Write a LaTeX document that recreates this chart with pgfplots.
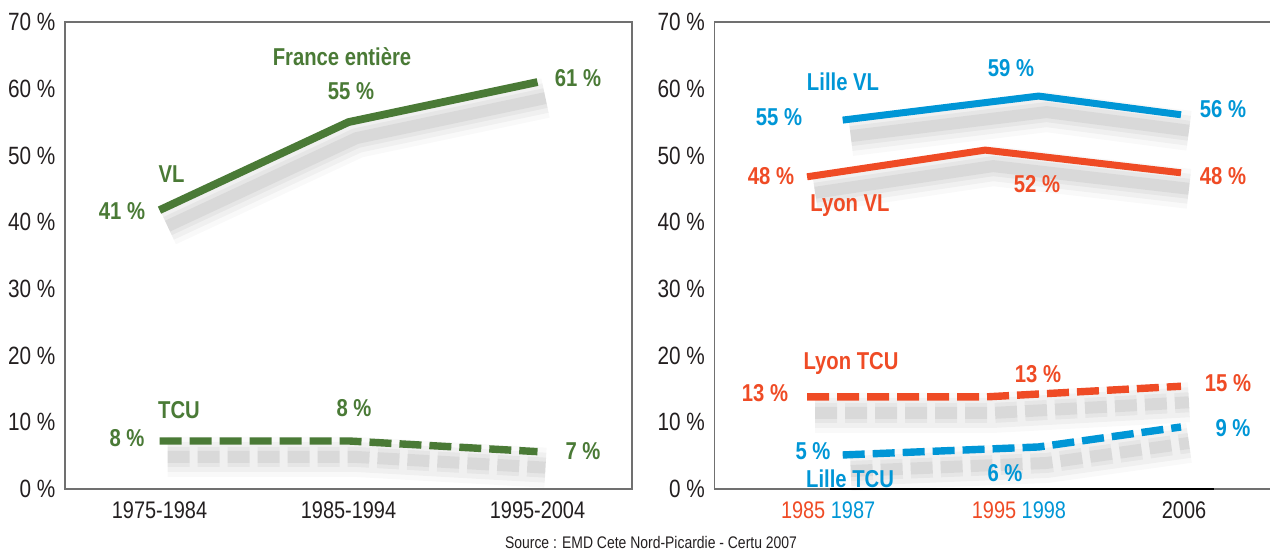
\documentclass[border=0pt]{standalone}
\usepackage{pgfplots}
\pgfplotsset{compat=1.18}
\usepackage{pgfplotstable}
\usepackage{fontspec}
\setmainfont{Liberation Sans}[FakeStretch=0.83]

\definecolor{vert}{HTML}{4A7A36}
\definecolor{lille}{HTML}{0096D6}
\definecolor{lyon}{HTML}{EF4B25}
\definecolor{axisgray}{HTML}{707070}
\definecolor{txt}{HTML}{231F20}

% France entiere
\pgfplotstableread{
x VL TCU
0 41.8 7.2
1 55.0 7.2
2 61.0 5.6
}\tabfrance
% Lyon
\pgfplotstableread{
x VL TCU
1985 46.8 13.8
1995 50.8 13.8
2006 47.4 15.4
}\tablyon
% Lille
\pgfplotstableread{
x VL TCU
1987 55.3 5.1
1998 58.9 6.3
2006 56.1 9.3
}\tablille

% soft drop shadow under a series: #1 dash option, #2 table, #3 column
% (the wide, faint layers stay solid so the blur closes the dash gaps)
\newcommand{\shadowed}[3]{%
  \addplot[black, opacity=0.025, line width=20pt, line join=round, transform canvas={xshift=4pt,yshift=-8pt}] table[x=x,y=#3]{#2};
  \addplot[black, opacity=0.035, line width=15pt, line join=round, transform canvas={xshift=4pt,yshift=-8pt}] table[x=x,y=#3]{#2};
  \addplot[black, opacity=0.045, line width=10pt, line join=round, #1, transform canvas={xshift=4pt,yshift=-8pt}] table[x=x,y=#3]{#2};
  \addplot[black, opacity=0.055, line width=6pt, line join=round, #1, transform canvas={xshift=4pt,yshift=-8pt}] table[x=x,y=#3]{#2};
}

\pgfplotsset{
  common/.style={
    scale only axis, height=233.5pt, anchor=south west,
    ymin=0, ymax=70,
    ytick={0,10,...,70},
    yticklabels={0 \%,10 \%,20 \%,30 \%,40 \%,50 \%,60 \%,70 \%},
    tick style={draw=none},
    y tick label style={font=\fontsize{12.5}{13}\selectfont, text=txt, xshift=-1.3pt},
    x tick label style={font=\fontsize{12}{13}\selectfont, text=txt, yshift=-3pt},
    axis line style={axisgray, line width=0.7pt},
    clip=false,
  },
  dashes/.style={dash pattern=on 11pt off 4pt, line cap=butt},
}

\begin{document}
\begin{tikzpicture}
\path[use as bounding box] (0,0) rectangle (635pt,-275pt);

% left panel
\begin{axis}[common,
    at={(32.5pt,-244.5pt)}, width=283.5pt,
    xmin=-0.5, xmax=2.5,
    xtick={0,1,2},
    xticklabels={1975-1984,1985-1994,1995-2004},
]
\shadowed{}{\tabfrance}{VL}
\shadowed{dashes}{\tabfrance}{TCU}
\addplot[vert, line width=3.9pt, line join=round] table[x=x,y=VL]{\tabfrance};
\addplot[vert, line width=3.7pt, dashes] table[x=x,y=TCU]{\tabfrance};
\end{axis}

% right panel
\begin{axis}[common,
    at={(357.25pt,-244.5pt)}, width=277.75pt,
    xmin=1979.8, xmax=2011.0,
    xtick={1986.18,1996.9,2006.17},
    xticklabels={{\textcolor{lyon}{1985} \textcolor{lille}{1987}},
                 {\textcolor{lyon}{1995} \textcolor{lille}{1998}},
                 2006},
    axis line style={draw=none},
]
\draw[axisgray, line width=0.7pt] (rel axis cs:1,1) -- (rel axis cs:0,1) -- (rel axis cs:0,0) -- (rel axis cs:1,0);
\draw[black, line width=1.1pt] (rel axis cs:0.208,0) -- (rel axis cs:0.899,0);
\shadowed{}{\tablille}{VL}
\shadowed{}{\tablyon}{VL}
\shadowed{dashes}{\tablyon}{TCU}
\shadowed{dashes}{\tablille}{TCU}
\addplot[lille, line width=3.5pt, line join=round] table[x=x,y=VL]{\tablille};
\addplot[lyon, line width=3.5pt, line join=round] table[x=x,y=VL]{\tablyon};
\addplot[lyon, line width=3.7pt, dashes] table[x=x,y=TCU]{\tablyon};
\addplot[lille, line width=3.7pt, dashes] table[x=x,y=TCU]{\tablille};
\end{axis}

% labels (reference pixel positions, baseline anchored)
\begin{scope}[x=0.5pt, y=-0.5pt,
    every node/.style={inner sep=0pt, anchor=base, font=\bfseries\fontsize{12.2}{13}\selectfont}]
\node[text=vert] at (342,66) {France entière};
\node[text=vert] at (351,100) {55 \%};
\node[text=vert] at (578,87) {61 \%};
\node[text=vert] at (171.5,183) {VL};
\node[text=vert] at (122,220) {41 \%};
\node[text=vert] at (179,419) {TCU};
\node[text=vert] at (127,447) {8 \%};
\node[text=vert] at (354,417) {8 \%};
\node[text=vert] at (583,460) {7 \%};

\node[text=lille] at (843,91) {Lille VL};
\node[text=lille] at (1011,77) {59 \%};
\node[text=lille] at (779,126) {55 \%};
\node[text=lille] at (1223,118) {56 \%};
\node[text=lyon] at (771,185) {48 \%};
\node[text=lyon] at (1037,193) {52 \%};
\node[text=lyon] at (1223,185) {48 \%};
\node[text=lyon] at (850,212) {Lyon VL};
\node[text=lyon] at (851,370) {Lyon TCU};
\node[text=lyon] at (765,402) {13 \%};
\node[text=lyon] at (1038,383) {13 \%};
\node[text=lyon] at (1228,392) {15 \%};
\node[text=lille] at (1233,437) {9 \%};
\node[text=lille] at (813,460) {5 \%};
\node[text=lille] at (850,488) {Lille TCU};
\node[text=lille] at (1005,482) {6 \%};

\node[font=\fontsize{8.4}{9}\selectfont, text=txt] at (651,549) {Source : EMD Cete Nord-Picardie - Certu 2007};
\end{scope}
\end{tikzpicture}
\end{document}
